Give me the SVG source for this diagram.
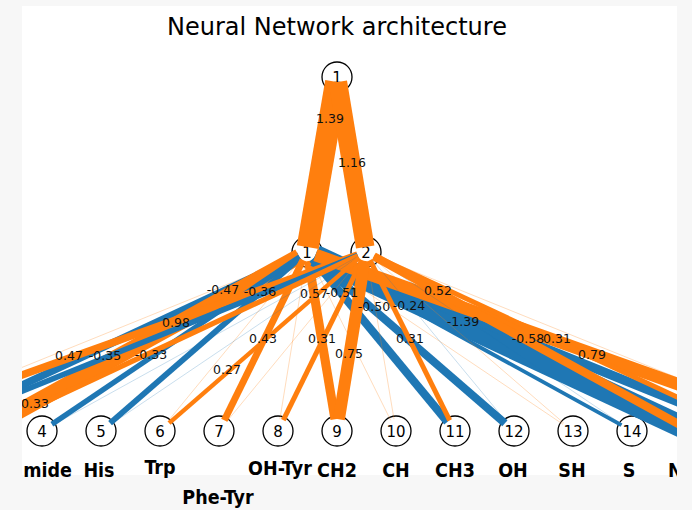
<svg xmlns="http://www.w3.org/2000/svg" width="692" height="510" viewBox="0 0 692 510">
<style>
.bg{fill:#f7f7f7}
.plot{fill:#fff}
.e line{fill:none;stroke-linecap:butt}
.o{stroke:#ff7f0e}
.b{stroke:#1f77b4}
.fo{stroke:#ff7f0e;stroke-width:0.8;opacity:.35}
.fb{stroke:#1f77b4;stroke-width:0.8;opacity:.3}
.node circle{fill:#fff;stroke:#000;stroke-width:1.3}
.num{font-family:'DejaVu Sans',sans-serif;font-size:15px;text-anchor:middle;fill:#000}
.el{font-family:'DejaVu Sans',sans-serif;font-size:12.5px;text-anchor:middle;fill:#111}
.lab{font-family:'DejaVu Sans Condensed','DejaVu Sans',sans-serif;font-weight:bold;font-size:19.5px;text-anchor:middle;fill:#000}
.title{font-family:'DejaVu Sans',sans-serif;font-size:24px;text-anchor:middle;fill:#000}
</style>
<defs>
<clipPath id="plot"><rect x="22" y="6" width="655" height="469"/></clipPath>
<clipPath id="fig"><rect x="22" y="0" width="655" height="510"/></clipPath>
</defs>
<rect class="bg" x="0" y="0" width="692" height="510"/>
<rect class="plot" x="22" y="6" width="655" height="469"/>
<text class="title" x="337" y="35">Neural Network architecture</text>

<g clip-path="url(#fig)">
<g id="out1" class="node"><circle cx="337" cy="77" r="15"/><text class="num" x="337" y="82.5">1</text></g>
<g id="hid1" class="node"><circle cx="307" cy="252" r="15"/><text class="num" x="307" y="257.5">1</text></g>
<g id="hid2" class="node"><circle cx="366" cy="252" r="15"/><text class="num" x="366" y="257.5">2</text></g>
<g id="in4" class="node"><circle cx="42" cy="431" r="15"/><text class="num" x="42" y="436.5">4</text><text class="lab" x="72" y="477" style="text-anchor:end">mide</text></g>
<g id="in5" class="node"><circle cx="101" cy="431" r="15"/><text class="num" x="101" y="436.5">5</text><text class="lab" x="99" y="477">His</text></g>
<g id="in6" class="node"><circle cx="160" cy="431" r="15"/><text class="num" x="160" y="436.5">6</text><text class="lab" x="160" y="474">Trp</text></g>
<g id="in7" class="node"><circle cx="219" cy="431" r="15"/><text class="num" x="219" y="436.5">7</text><text class="lab" x="218" y="504">Phe-Tyr</text></g>
<g id="in8" class="node"><circle cx="278" cy="431" r="15"/><text class="num" x="278" y="436.5">8</text><text class="lab" x="280" y="475">OH-Tyr</text></g>
<g id="in9" class="node"><circle cx="337" cy="431" r="15"/><text class="num" x="337" y="436.5">9</text><text class="lab" x="337" y="477">CH2</text></g>
<g id="in10" class="node"><circle cx="396" cy="431" r="15"/><text class="num" x="396" y="436.5">10</text><text class="lab" x="396" y="477">CH</text></g>
<g id="in11" class="node"><circle cx="455" cy="431" r="15"/><text class="num" x="455" y="436.5">11</text><text class="lab" x="455" y="477">CH3</text></g>
<g id="in12" class="node"><circle cx="514" cy="431" r="15"/><text class="num" x="514" y="436.5">12</text><text class="lab" x="513" y="477">OH</text></g>
<g id="in13" class="node"><circle cx="573" cy="431" r="15"/><text class="num" x="573" y="436.5">13</text><text class="lab" x="572" y="477">SH</text></g>
<g id="in14" class="node"><circle cx="632" cy="431" r="15"/><text class="num" x="632" y="436.5">14</text><text class="lab" x="629" y="477">S</text></g>
<g id="in15" class="node"><text class="lab" x="668" y="477" style="text-anchor:start">N</text></g>
</g>

<g id="connectors" class="e" clip-path="url(#plot)">
<line class="fo" x1="298.7" y1="255.4" x2="-135" y2="431"/>
<line class="b" stroke-width="7.5" x1="298.8" y1="255.8" x2="-76" y2="431"/>
<line class="o" stroke-width="15.7" x1="299.1" y1="256.4" x2="-17" y2="431"/>
<line class="b" stroke-width="5.3" x1="299.5" y1="257" x2="51.9" y2="424.3"/>
<line class="b" stroke-width="5.8" x1="300.2" y1="257.9" x2="110.1" y2="423.1"/>
<line class="fo" x1="301.3" y1="259" x2="167.6" y2="421.7"/>
<line class="o" stroke-width="6.9" x1="303" y1="260.1" x2="224.3" y2="420.2"/>
<line class="fo" x1="305.6" y1="260.9" x2="279.9" y2="419.2"/>
<line class="o" stroke-width="9.1" x1="308.5" y1="260.9" x2="335" y2="419.2"/>
<line class="fo" x1="311" y1="260.1" x2="390.7" y2="420.3"/>
<line class="b" stroke-width="8.2" x1="312.7" y1="258.9" x2="447.4" y2="421.8"/>
<line class="b" stroke-width="8" x1="313.8" y1="257.9" x2="504.9" y2="423.2"/>
<line class="fo" x1="314.5" y1="257" x2="563" y2="424.3"/>
<line class="b" stroke-width="3.8" x1="314.9" y1="256.3" x2="621.5" y2="425.2"/>
<line class="b" stroke-width="22.2" x1="315.2" y1="255.8" x2="691" y2="431"/>
<line class="b" stroke-width="9.3" x1="315.3" y1="255.4" x2="750" y2="431"/>
<line class="o" stroke-width="12.6" x1="315.5" y1="255" x2="809" y2="431"/>

<line class="o" stroke-width="7.5" x1="357.5" y1="255" x2="-135" y2="431"/>
<line class="b" stroke-width="5.6" x1="357.7" y1="255.4" x2="-76" y2="431"/>
<line class="o" stroke-width="5.3" x1="357.8" y1="255.8" x2="-17" y2="431"/>
<line class="fb" x1="358.1" y1="256.4" x2="52.5" y2="425.2"/>
<line class="fb" x1="358.5" y1="257" x2="110.9" y2="424.3"/>
<line class="o" stroke-width="4.3" x1="359.2" y1="257.9" x2="169.1" y2="423.1"/>
<line class="fo" x1="360.3" y1="259" x2="226.6" y2="421.7"/>
<line class="o" stroke-width="5" x1="362" y1="260.1" x2="283.3" y2="420.2"/>
<line class="o" stroke-width="12" x1="364.6" y1="260.9" x2="338.9" y2="419.2"/>
<line class="fo" x1="367.5" y1="260.9" x2="394" y2="419.2"/>
<line class="o" stroke-width="5" x1="370" y1="260.1" x2="449.7" y2="420.3"/>
<line class="fb" x1="371.7" y1="258.9" x2="506.4" y2="421.8"/>
<line class="fo" x1="372.8" y1="257.9" x2="563.9" y2="423.2"/>
<line class="fb" x1="373.5" y1="257" x2="622" y2="424.3"/>
<line class="o" stroke-width="8.3" x1="373.9" y1="256.3" x2="691" y2="431"/>
<line class="o" stroke-width="5" x1="374.2" y1="255.8" x2="750" y2="431"/>
<line class="fo" x1="374.3" y1="255.4" x2="809" y2="431"/>

<line class="o" stroke-width="22.2" x1="336.2" y1="81.9" x2="307.8" y2="247.1"/>
<line class="o" stroke-width="18.6" x1="337.8" y1="81.9" x2="365.2" y2="247.1"/>
</g>

<g id="edge-labels" clip-path="url(#plot)">
<text class="el" x="330" y="122.5">1.39</text>
<text class="el" x="352" y="166.5">1.16</text>
<text class="el" x="223" y="293.5">-0.47</text>
<text class="el" x="260" y="296">-0.36</text>
<text class="el" x="176" y="326.5">0.98</text>
<text class="el" x="69" y="359.5">0.47</text>
<text class="el" x="105" y="359.5">-0.35</text>
<text class="el" x="151" y="359">-0.33</text>
<text class="el" x="35" y="408">0.33</text>
<text class="el" x="263" y="342.5">0.43</text>
<text class="el" x="227" y="373.5">0.27</text>
<text class="el" x="314" y="298">0.57</text>
<text class="el" x="342" y="296.5">-0.51</text>
<text class="el" x="322" y="342.5">0.31</text>
<text class="el" x="349" y="357.5">0.75</text>
<text class="el" x="374" y="310.5">-0.50</text>
<text class="el" x="409" y="310">-0.24</text>
<text class="el" x="410" y="342.5">0.31</text>
<text class="el" x="438" y="294.5">0.52</text>
<text class="el" x="463" y="326">-1.39</text>
<text class="el" x="528" y="342.5">-0.58</text>
<text class="el" x="557" y="342.5">0.31</text>
<text class="el" x="592" y="359">0.79</text>
</g>
</svg>
